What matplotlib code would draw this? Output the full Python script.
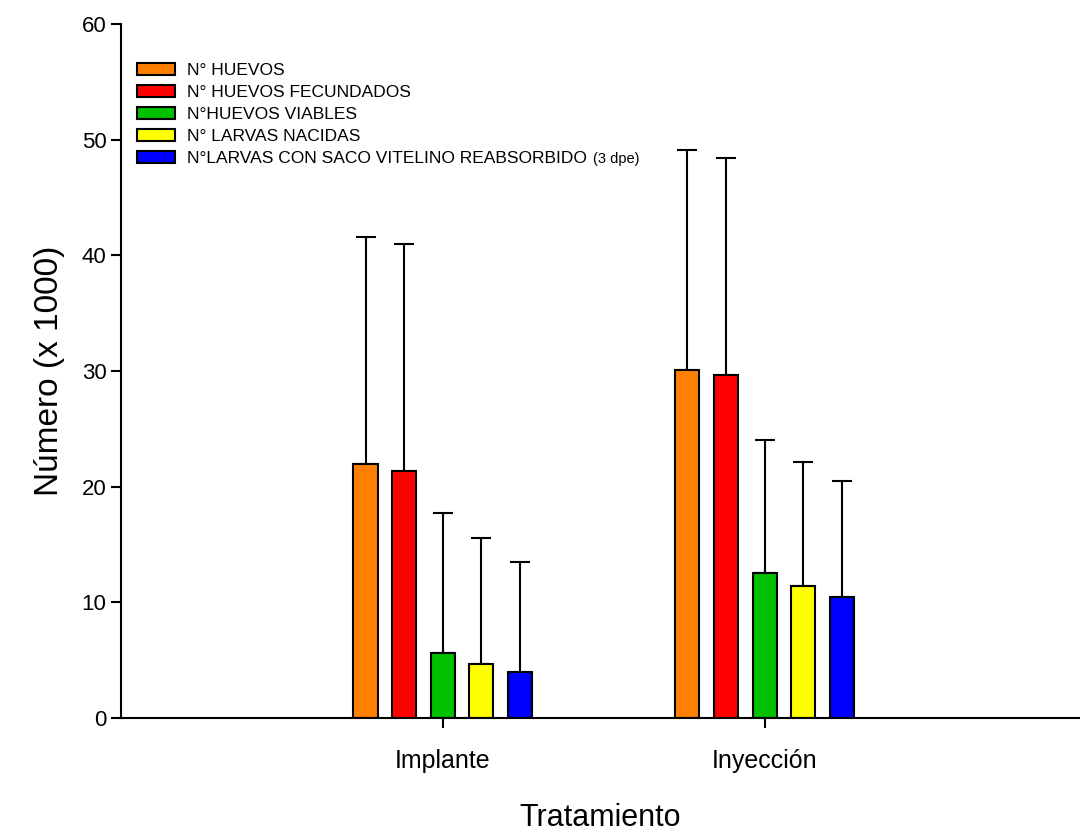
import numpy as np
import matplotlib
matplotlib.use("Agg")
from matplotlib import pyplot as plt

plt.rcParams['font.family'] = ['Liberation Sans', 'DejaVu Sans']

# Data (x1000)
tratamientos = ['Implante', 'Inyección']
series = ['N° HUEVOS', 'N° HUEVOS FECUNDADOS', 'N°HUEVOS VIABLES',
          'N° LARVAS NACIDAS', 'N°LARVAS CON SACO VITELINO REABSORBIDO']
nota = '(3 dpe)'
medias = [[22.0, 30.1],
          [21.4, 29.7],
          [5.6, 12.5],
          [4.7, 11.4],
          [4.0, 10.5]]
error_sup = [[41.6, 49.1],
             [41.0, 48.4],
             [17.7, 24.0],
             [15.6, 22.1],
             [13.5, 20.5]]
colores = ['#ff8000', '#ff0000', '#00c000', '#ffff00', '#0000ff']

fig = plt.figure(figsize=(10.8, 8.33), dpi=100)
ax = fig.add_axes([0.112, 0.138, 0.888, 0.833])

x = np.arange(1, len(tratamientos) + 1)
ancho = 0.075
paso = 0.12
for i, (nombre, m, e, c) in enumerate(zip(series, medias, error_sup, colores)):
    pos = x + (i - 2) * paso
    m = np.array(m)
    yerr = np.vstack([np.zeros_like(m), np.array(e) - m])
    ax.bar(pos, m, width=ancho, color=c, edgecolor='black', linewidth=1.5,
           label=nombre, zorder=2)
    ax.errorbar(pos, m, yerr=yerr, fmt='none', ecolor='black', elinewidth=1.5,
                capsize=7.5, capthick=1.5, zorder=1)

ax.set_xlim(0, 2.98)
ax.set_ylim(0, 60)
ax.set_yticks(np.arange(0, 61, 10))
ax.set_xticks(x)
ax.set_xticklabels(tratamientos, fontsize=18)
ax.tick_params(axis='y', labelsize=16, direction='out', length=7, width=1.5)
ax.tick_params(axis='x', direction='out', length=7, width=1.5, pad=15)
ax.spines['top'].set_visible(False)
ax.spines['right'].set_visible(False)
ax.spines['left'].set_linewidth(1.5)
ax.spines['bottom'].set_linewidth(1.5)

ax.set_ylabel('Número (x 1000)', fontsize=24, labelpad=12)
ax.set_xlabel('Tratamiento', fontsize=22, labelpad=22)

leg = ax.legend(loc='upper left', bbox_to_anchor=(0.004, 0.962), frameon=False,
                fontsize=12.5, handlelength=2.2, handleheight=0.7,
                labelspacing=0.4, handletextpad=0.7, borderaxespad=0.3)

# smaller note after the last legend entry
fig.canvas.draw()
r = fig.canvas.get_renderer()
bb = leg.get_texts()[-1].get_window_extent(r)
fig.text((bb.x1 + 6) / fig.bbox.width, (bb.y0 + bb.y1) / 2 / fig.bbox.height,
         nota, fontsize=10.5, va='center', ha='left')

plt.savefig('out.png', dpi=100)
